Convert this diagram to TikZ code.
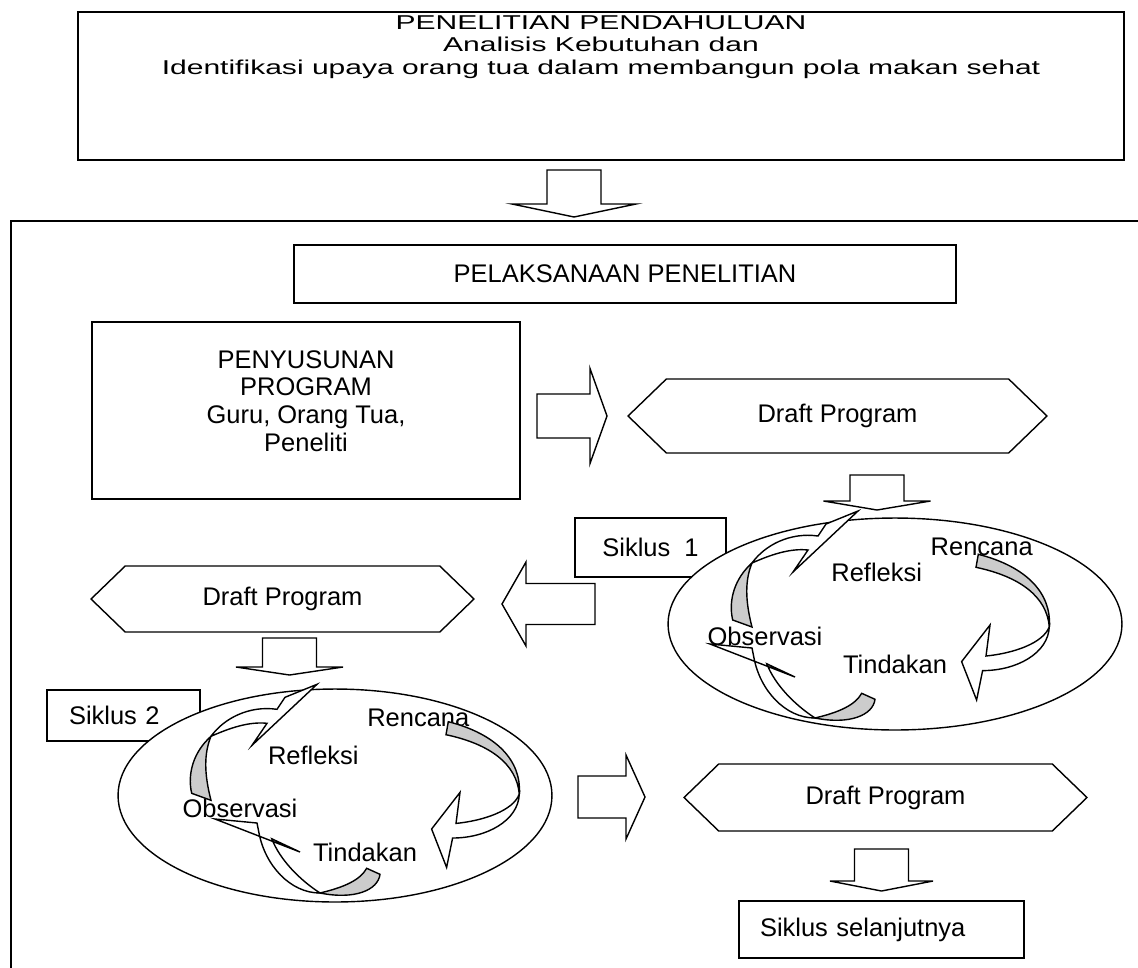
\documentclass[tikz,border=0pt]{standalone}
\usepackage{fontspec}
\setmainfont{Liberation Sans}
\newfontfamily\widefont{Liberation Sans}[FakeStretch=1.5]
\usetikzlibrary{positioning}
\usetikzlibrary{calc}
\usetikzlibrary{shapes.geometric}
\usetikzlibrary{shapes.symbols}

% block arrows: centre x, top y, shaft length, half wing, head depth
\newcommand{\downblock}[5]{%
  \draw[blockarrow] (#1-27,#2) -- (#1+27,#2) -- (#1+27,#2+#3) -- (#1+#4,#2+#3)
    -- (#1,#2+#3+#5) -- (#1-#4,#2+#3) -- (#1-27,#2+#3) -- cycle;}
% tail x, head base x, tip x, centre y, half shaft, half head
\newcommand{\sideblock}[6]{%
  \draw[blockarrow] (#1,#4-#5) -- (#2,#4-#5) -- (#2,#4-#6) -- (#3,#4)
    -- (#2,#4+#6) -- (#2,#4+#5) -- (#1,#4+#5) -- cycle;}

% the three turning arrows of one cycle
\newcommand{\turnA}[1]{\begin{scope}[shift={#1}]
  \draw[band] (0,0) .. controls (48.3,12.3) and (73.3,39) .. (71,72.3)
    .. controls (68.3,42.3) and (41.7,22.3) .. (-2.3,13) -- cycle;
  \draw[bandw] (71,72.3) .. controls (70,99) and (38.3,116.3) .. (4.3,116.3)
    -- (-1.7,145.7) -- (-16.7,107.3) -- (11.7,70.7) -- (7.7,101.7)
    .. controls (35,99) and (65,89) .. (71,72.3) -- cycle;
\end{scope}}
\newcommand{\turnB}[1]{\begin{scope}[shift={#1}]
  \draw[band] (0,0) -- (13.3,6) .. controls (11.3,21.7) and (-11.7,31.7) .. (-46.7,24.7)
    .. controls (-21.7,18.7) and (-6.7,11.7) .. (0,0) -- cycle;
  \draw[bandw] (-46.7,24.7) .. controls (-76.7,24.7) and (-101.7,-3.3) .. (-107.7,-35.3)
    -- (-109.7,-45.3) -- (-151.7,-49.3) -- (-66.7,-16.3) -- (-94.9,-29.5)
    .. controls (-86.7,-8.3) and (-66.7,11.7) .. (-46.7,24.7) -- cycle;
\end{scope}}
\newcommand{\turnC}[1]{\begin{scope}[shift={#1}]
  \draw[band] (0,0) .. controls (-4.7,-20) and (2.3,-42) .. (19.3,-57)
    .. controls (12.3,-40) and (12.3,-20) .. (19.3,7) -- cycle;
  \draw[bandw] (19.3,-57) .. controls (32.3,-75) and (57.3,-88) .. (85.3,-84)
    -- (93.3,-96) -- (125.3,-109) -- (60.3,-48) -- (75.3,-70)
    .. controls (57.3,-72) and (37.3,-65) .. (19.3,-57) -- cycle;
\end{scope}}

\begin{document}
\begin{tikzpicture}[x=0.02cm,y=-0.02cm,line width=0.8pt,
    font=\fontsize{14.5}{15.8}\selectfont,
    box/.style={draw,fill=white,inner sep=0pt},
    hexa/.style={draw,fill=white,signal,signal to=west and east,
      signal pointer angle=88,inner sep=0pt},
    ring/.style={draw,fill=white,ellipse,inner sep=0pt},
    lbl/.style={inner sep=0pt},
    blockarrow/.style={draw,fill=white},
    band/.style={draw,fill=black!20},
    bandw/.style={draw,fill=white}]
  \useasboundingbox (0,0) rectangle (1138,967);
  \clip (0,0) rectangle (1138,967);

  % preliminary study
  \node[box,line width=1.3pt,minimum width=20.92cm,minimum height=2.96cm] (pre) at (601,86) {};
  \node[lbl,font=\widefont\fontsize{11.4}{12.8}\selectfont,align=center] (pretxt) at (601,47)
    {PENELITIAN PENDAHULUAN\\Analisis Kebutuhan dan\\Identifikasi upaya orang tua dalam membangun pola makan sehat};
  \downblock{574}{170}{34}{62}{13}

  % frame of the execution part
  \draw (1150,221) -- (11,221) -- (11,990);

  \node[box,minimum width=13.24cm,minimum height=1.16cm] (exec) at (625,274) {PELAKSANAAN PENELITIAN};
  \node[box,minimum width=8.56cm,minimum height=3.54cm] (prog) at (306,410.5) {};
  \node[lbl,align=center] (progtxt) at (306,401) {PENYUSUNAN\\PROGRAM\\Guru, Orang Tua,\\Peneliti};

  \sideblock{537}{590}{607}{416}{22}{47.5}
  \node[hexa,minimum width=8.38cm,minimum height=1.48cm] (draftA) at (837.5,416) {Draft Program};
  \downblock{877}{475}{26}{53.5}{9}

  % cycle 1
  \node[box,minimum width=3.02cm,minimum height=1.18cm] (sikA) at (650.5,547.5) {Siklus\ \ 1};
  \node[ring,minimum width=9.08cm,minimum height=4.24cm] (cycA) at (895,624) {};
  \node[lbl] (renA) at (981.7,546.7) {Rencana};
  \node[lbl] (refA) at (876.7,572.7) {Refleksi};
  \node[lbl] (obsA) at (765,636.7) {Observasi};
  \node[lbl] (tinA) at (895,664) {Tindakan};
  \turnA{(978.3,554.3)}
  \turnB{(861.7,693.3)}
  \turnC{(732.7,620)}

  \sideblock{595}{526}{502}{604}{20.5}{42}
  \node[hexa,minimum width=7.66cm,minimum height=1.32cm] (draftB) at (282.5,599) {Draft Program};
  \downblock{289.5}{638}{29}{53.5}{8}

  % cycle 2
  \node[box,align=left,text width=2.18cm,inner xsep=0.44cm,minimum height=1.02cm] (sikB) at (123.5,715.5) {Siklus 2};
  \node[ring,minimum width=8.68cm,minimum height=4.26cm] (cycB) at (335,795.5) {};
  \node[lbl] (renB) at (418.3,718.3) {Rencana};
  \node[lbl] (refB) at (313.3,755) {Refleksi};
  \node[lbl] (obsB) at (240,808.3) {Observasi};
  \node[lbl] (tinB) at (365,852.7) {Tindakan};
  \turnA{(448.3,721.7)}
  \turnB{(366.7,868.3)}
  \turnC{(191.7,793.3)}

  \sideblock{578}{626}{645}{797}{21}{42}
  \node[hexa,minimum width=8.06cm,minimum height=1.34cm] (draftC) at (885.5,797.5) {Draft Program};
  \downblock{881.5}{849}{32}{51.5}{10}
  \node[box,align=left,text width=4.86cm,inner xsep=0.42cm,minimum height=1.14cm] (next) at (881.5,929.5) {Siklus selanjutnya};
\end{tikzpicture}
\end{document}
